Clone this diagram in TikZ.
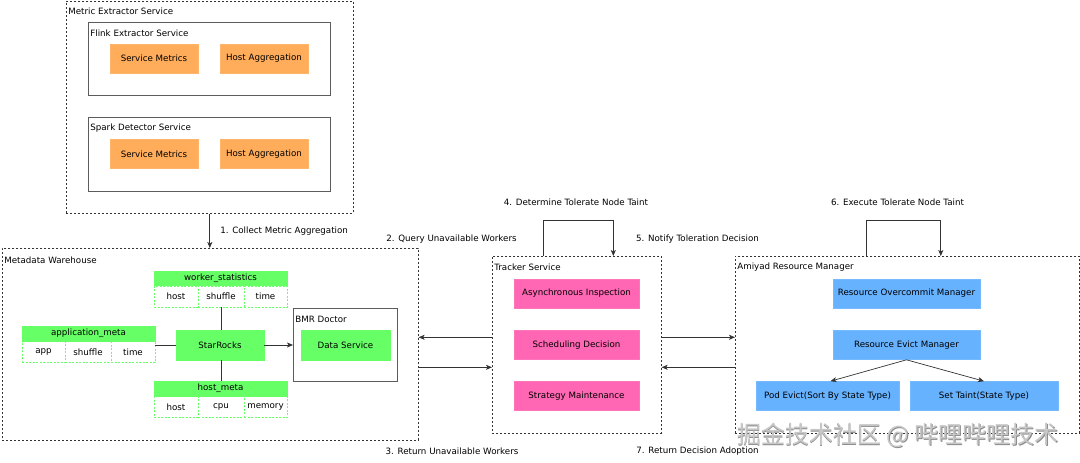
\documentclass[tikz,border=0pt]{standalone}
\usepackage{fontspec}
\setmainfont{DejaVu Sans}
\newfontfamily\cjk{Noto Sans CJK SC}
\usetikzlibrary{arrows.meta}
\definecolor{orng}{HTML}{FFAD5B}
\definecolor{pnk}{HTML}{FF66B3}
\definecolor{grn}{HTML}{66FF66}
\definecolor{blu}{HTML}{66B2FF}
\definecolor{ln}{HTML}{333333}
\begin{document}
\begin{tikzpicture}[x=1pt,y=-1pt,
  font=\fontsize{8.7}{10}\selectfont,
  line width=0.7pt,
  cont/.style={draw=ln, line width=0.6pt, dash pattern=on 2pt off 2pt, anchor=north west, inner sep=0pt},
  sbox/.style={draw=ln!80, line width=0.8pt, anchor=north west, inner sep=0pt},
  ttl/.style={anchor=west, inner sep=0pt},
  fb/.style={minimum height=29pt, inner sep=0pt, line width=0.6pt},
  ob/.style={fb, fill=orng, draw=orng!90!white, minimum width=88pt},
  pb/.style={fb, fill=pnk, draw=pnk!90!white, minimum width=125pt},
  bb/.style={fb, fill=blu, draw=blu!90!white},
  gb/.style={fb, fill=grn, draw=grn, minimum height=30pt, minimum width=88pt},
  hdr/.style={fill=grn, draw=grn, minimum width=133pt, minimum height=15pt, inner sep=0pt, line width=0.6pt},
  cell/.style={draw=grn, dash pattern=on 2pt off 1.5pt, line width=0.6pt, fill=white, minimum height=21pt, inner sep=0pt},
  arr/.style={draw=ln, -{Stealth[length=6pt,width=5pt,inset=1.5pt]}},
  lbl/.style={inner sep=0pt}
]
\useasboundingbox (0,0) rectangle (1080,463);
\fill[white] (0,0) rectangle (1080,463);

% Metric Extractor Service
\node[cont, minimum width=287pt, minimum height=212pt] (mes) at (66,1) {};
\node[ttl] (mest) at (68,11) {Metric Extractor Service};
\node[sbox, minimum width=242pt, minimum height=73pt] (flk) at (88,22) {};
\node[ttl] (flkt) at (90,33) {Flink Extractor Service};
\node[ob] (sm1) at (154,58.5) {Service Metrics};
\node[ob] (ha1) at (264,58.5) {Host Aggregation};
\node[sbox, minimum width=242pt, minimum height=74pt] (spk) at (88,117) {};
\node[ttl] (spkt) at (90,128) {Spark Detector Service};
\node[ob] (sm2) at (154,154) {Service Metrics};
\node[ob] (ha2) at (264,154) {Host Aggregation};

% Metadata Warehouse
\node[cont, minimum width=416pt, minimum height=192pt] (mw) at (2,248) {};
\node[ttl] (mwt) at (4,260) {Metadata Warehouse};

\node[hdr] (ws) at (220.5,278.5) {worker\_statistics};
\node[cell, minimum width=44pt] (ws1) at (176,296.5) {host};
\node[cell, minimum width=46pt] (ws2) at (221,296.5) {shuffle};
\node[cell, minimum width=43pt] (ws3) at (265.5,296.5) {time};

\node[hdr] (am) at (88.5,333.5) {application\_meta};
\node[cell, minimum width=43pt] (am1) at (43.5,352) {app};
\node[cell, minimum width=46pt] (am2) at (88,352) {shuffle};
\node[cell, minimum width=44pt] (am3) at (133,352) {time};

\node[hdr] (hm) at (220.5,388.5) {host\_meta};
\node[cell, minimum width=44pt] (hm1) at (176,407) {host};
\node[cell, minimum width=46pt] (hm2) at (221,407) {cpu};
\node[cell, minimum width=43pt] (hm3) at (265.5,407) {memory};

\node[gb] (sr) at (220,345) {StarRocks};
\node[sbox, minimum width=104pt, minimum height=73pt] (bmr) at (293,308) {};
\node[ttl] (bmrt) at (295,319) {BMR Doctor};
\node[gb, minimum width=89pt] (ds) at (345.5,345) {Data Service};

\draw[draw=ln] (ws2.south |- ws1.south) -- (ws2.south |- sr.north);
\draw[draw=ln] (hm2.north |- hm.north) -- (hm2.north |- sr.south);
\draw[draw=ln] (am.east |- sr.west) -- (sr.west);
\draw[arr] (sr.east) -- (bmr.west |- sr.east);

% Tracker Service
\node[cont, minimum width=169pt, minimum height=177pt] (trk) at (492,256) {};
\node[ttl] (trkt) at (494,267) {Tracker Service};
\node[pb] (ai) at (576.5,293.5) {Asynchronous Inspection};
\node[pb] (sd) at (576.5,345) {Scheduling Decision};
\node[pb] (sm) at (576.5,396) {Strategy Maintenance};

% Amiyad Resource Manager
\node[cont, minimum width=344pt, minimum height=177pt] (arm) at (735,256) {};
\node[ttl] (armt) at (737,267) {Amiyad Resource Manager};
\node[bb, minimum width=147pt] (rom) at (906.5,293.5) {Resource Overcommit Manager};
\node[bb, minimum width=147pt] (rem) at (906.5,345) {Resource Evict Manager};
\node[bb, minimum width=143pt] (pe) at (827.5,396) {Pod Evict(Sort By State Type)};
\node[bb, minimum width=148pt] (st) at (984,396) {Set Taint(State Type)};
\draw[arr] (rem.south) -- ([xshift=3pt]pe.north);
\draw[arr] (rem.south) -- (st.north);

% connectors
\draw[arr] (mes.south) -- (mes.south |- mw.north);
\node[lbl, anchor=west] (l1) at (220,231) {1. Collect Metric Aggregation};

\draw[arr] ([yshift=7.5pt]trk.west) -- ([yshift=7.5pt]trk.west -| mw.east);
\draw[arr] ([yshift=-22.5pt]mw.east |- trk.west) -- ([yshift=-22.5pt]trk.west);
\node[lbl] (l2) at (451.5,239) {2. Query Unavailable Workers};
\node[lbl] (l3) at (452,451) {3. Return Unavailable Workers};

\draw[arr] ([xshift=-33.5pt]trk.north) -- ++(0,-36) -| ([xshift=36.5pt]trk.north);
\node[lbl] (l4) at (576,202) {4. Determine Tolerate Node Taint};

\draw[arr] ([yshift=7.5pt]trk.east) -- ([yshift=7.5pt]trk.east -| arm.west);
\draw[arr] ([yshift=-22.5pt]arm.west) -- ([yshift=-22.5pt]arm.west -| trk.east);
\node[lbl] (l5) at (697.5,239) {5. Notify Toleration Decision};
\node[lbl] (l7) at (697.5,451) {7. Return Decision Adoption};

\draw[arr] ([xshift=-40.5pt]arm.north) -- ++(0,-36) -| ([xshift=33.5pt]arm.north);
\node[lbl] (l6) at (897.5,202) {6. Execute Tolerate Node Taint};

% watermark
\node[lbl, text=black!45] (wm0) at (898.5,436) {\cjk\fontsize{24}{26}\selectfont 掘金技术社区 @ 哔哩哔哩技术};
\node[lbl, text=black!22] (wm) at (897.8,435.3) {\cjk\fontsize{24}{26}\selectfont 掘金技术社区 @ 哔哩哔哩技术};
\end{tikzpicture}
\end{document}
